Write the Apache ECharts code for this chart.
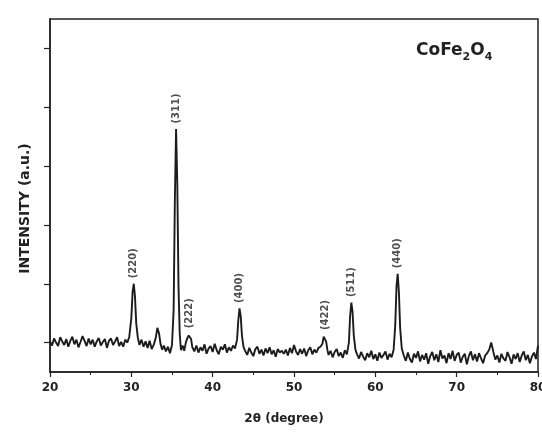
<!DOCTYPE html>
<html>
<head>
<meta charset="utf-8">
<script src="https://cdn.jsdelivr.net/npm/echarts@6/dist/echarts.min.js"></script>
<style>
  html, body { margin: 0; padding: 0; background: #fff; }
  #chart { width: 542px; height: 435px; }
</style>
</head>
<body>
<div id="chart"></div>
<script>
// XRD pattern of CoFe2O4: diffraction angle 2θ (degrees) and intensity (a.u., baseline = 0)
const twoTheta = [
  20.00, 20.25, 20.50, 20.75, 21.00, 21.25, 21.50, 21.75, 22.00, 22.25,
  22.50, 22.75, 23.00, 23.25, 23.50, 23.75, 24.00, 24.25, 24.50, 24.75,
  25.00, 25.25, 25.50, 25.75, 26.00, 26.25, 26.50, 26.75, 27.00, 27.25,
  27.50, 27.75, 28.00, 28.25, 28.50, 28.75, 29.00, 29.25, 29.50, 29.75,
  30.00, 30.15, 30.30, 30.45, 30.60, 30.80,
  31.00, 31.25, 31.50, 31.75, 32.00, 32.25, 32.50, 32.75, 33.00, 33.20,
  33.40, 33.60, 33.80, 34.00, 34.25, 34.50, 34.75, 35.00,
  35.20, 35.35, 35.50, 35.65, 35.80, 35.95,
  36.10, 36.30, 36.50, 36.70, 36.90, 37.05, 37.20, 37.35, 37.50, 37.75,
  38.00, 38.25, 38.50, 38.75, 39.00, 39.25, 39.50, 39.75, 40.00, 40.25,
  40.50, 40.75, 41.00, 41.25, 41.50, 41.75, 42.00, 42.25, 42.50, 42.75,
  43.00, 43.15, 43.30, 43.45, 43.60, 43.80,
  44.00, 44.25, 44.50, 44.75, 45.00, 45.25, 45.50, 45.75, 46.00, 46.25,
  46.50, 46.75, 47.00, 47.25, 47.50, 47.75, 48.00, 48.25, 48.50, 48.75,
  49.00, 49.25, 49.50, 49.75, 50.00, 50.25, 50.50, 50.75, 51.00, 51.25,
  51.50, 51.75, 52.00, 52.25, 52.50, 52.75, 53.00, 53.25,
  53.50, 53.65, 53.80, 53.95, 54.10,
  54.25, 54.50, 54.75, 55.00, 55.25, 55.50, 55.75, 56.00, 56.25, 56.50,
  56.75, 56.90, 57.05, 57.20, 57.35, 57.55,
  57.75, 58.00, 58.25, 58.50, 58.75, 59.00, 59.25, 59.50, 59.75, 60.00,
  60.25, 60.50, 60.75, 61.00, 61.25, 61.50, 61.75, 62.00, 62.25,
  62.45, 62.60, 62.75, 62.90, 63.05, 63.25,
  63.50, 63.75, 64.00, 64.25, 64.50, 64.75, 65.00, 65.25, 65.50, 65.75,
  66.00, 66.25, 66.50, 66.75, 67.00, 67.25, 67.50, 67.75, 68.00, 68.25,
  68.50, 68.75, 69.00, 69.25, 69.50, 69.75, 70.00, 70.25, 70.50, 70.75,
  71.00, 71.25, 71.50, 71.75, 72.00, 72.25, 72.50, 72.75, 73.00, 73.25,
  73.50, 73.75, 74.00, 74.25, 74.50, 74.75, 75.00, 75.25, 75.50, 75.75,
  76.00, 76.25, 76.50, 76.75, 77.00, 77.25, 77.50, 77.75, 78.00, 78.25,
  78.50, 78.75, 79.00, 79.25, 79.50, 79.75, 80.00
];

const intensity = [
   0.02, -0.05,  0.07,  0.00, -0.06,  0.09,  0.02, -0.04,  0.06, -0.07,
   0.03,  0.10, -0.03,  0.05, -0.08,  0.01,  0.11,  0.03, -0.06,  0.07,
  -0.03,  0.05, -0.07,  0.02,  0.08, -0.05,  0.01,  0.06, -0.09,  0.03,
   0.07, -0.04,  0.02,  0.09, -0.06,  0.01, -0.07,  0.05,  0.00,  0.10,
   0.42,  0.85,  1.00,  0.78,  0.33,  0.08,
  -0.04,  0.05, -0.07,  0.02, -0.09,  0.03, -0.11, -0.04,  0.08,  0.25,
   0.16, -0.03, -0.12, -0.05, -0.15, -0.07, -0.18, -0.04,
   0.55,  2.40,  3.63,  2.70,  0.95,  0.15,
  -0.13, -0.05, -0.14,  0.00,  0.08,  0.12,  0.15,  0.06, -0.08, -0.15,
  -0.05, -0.17, -0.08, -0.14, -0.03, -0.19, -0.10, -0.06, -0.16, -0.02,
  -0.13, -0.20, -0.07, -0.12, -0.03, -0.17, -0.08, -0.14, -0.05, -0.10,
   0.05,  0.38,  0.58,  0.45,  0.12, -0.08,
  -0.14, -0.21, -0.09, -0.17, -0.23, -0.11, -0.07, -0.19, -0.12, -0.22,
  -0.10, -0.18, -0.08, -0.20, -0.13, -0.24, -0.11, -0.17, -0.14, -0.19,
  -0.12, -0.22, -0.09, -0.18, -0.04, -0.15, -0.21, -0.11, -0.19, -0.10,
  -0.23, -0.13, -0.08, -0.20, -0.12, -0.17, -0.09, -0.07,
  -0.02,  0.10,  0.12,  0.02, -0.12,
  -0.21, -0.14, -0.25, -0.16, -0.11, -0.23, -0.17, -0.26, -0.13, -0.20,
   0.00,  0.45,  0.68,  0.52,  0.12, -0.12,
  -0.20, -0.27, -0.16, -0.24, -0.30, -0.18, -0.25, -0.14, -0.28, -0.20,
  -0.31, -0.17, -0.26, -0.21, -0.15, -0.29, -0.19, -0.25, -0.12,
   0.30,  0.95,  1.17,  0.85,  0.25, -0.10,
  -0.22, -0.31, -0.17, -0.28, -0.34, -0.19, -0.26, -0.15, -0.32, -0.21,
  -0.29, -0.18, -0.36, -0.23, -0.16, -0.30, -0.20, -0.33, -0.13, -0.27,
  -0.22, -0.35, -0.18, -0.28, -0.14, -0.31, -0.21, -0.17, -0.34, -0.24,
  -0.19, -0.37, -0.23, -0.15, -0.30, -0.20, -0.32, -0.18, -0.27, -0.35,
  -0.22, -0.18, -0.12,  0.00, -0.15, -0.29, -0.22, -0.34, -0.19, -0.27,
  -0.31, -0.16, -0.25, -0.36, -0.20, -0.28, -0.18, -0.33, -0.22, -0.15,
  -0.30, -0.21, -0.35, -0.24, -0.17, -0.28, -0.05
];

// Indexed spinel reflections
const peakLabels = ['(220)', '(311)', '(222)', '(400)', '(422)', '(511)', '(440)'];
const peakAngles = [30.30, 35.50, 37.20, 43.30, 53.80, 57.05, 62.75];
const peakHeights = [1.00, 3.63, 0.15, 0.58, 0.12, 0.68, 1.17];

const xTicks = [20, 30, 40, 50, 60, 70, 80];
const yTicks = [0, 1, 2, 3, 4, 5];

const ink = '#222';
const font = 'DejaVu Sans';

const pattern = twoTheta.map((t, i) => [t, intensity[i]]);
const peaks = peakAngles.map((t, i) => ({ name: peakLabels[i], value: [t, peakHeights[i]] }));

const chart = echarts.init(document.getElementById('chart'), null, { renderer: 'canvas' });
chart.setOption({
  animation: false,
  backgroundColor: '#fff',
  title: {
    text: '{m|CoFe}{s|2}{m|O}{s|4}',
    left: 411,
    top: 32,
    textStyle: {
      rich: {
        m: { fontFamily: font, fontWeight: 'bold', fontSize: 17, color: ink, lineHeight: 22, verticalAlign: 'bottom' },
        s: { fontFamily: font, fontWeight: 'bold', fontSize: 11, color: ink, lineHeight: 22, verticalAlign: 'bottom', padding: [0, 0, -4, 0] }
      }
    }
  },
  grid: {
    left: 50, right: 4, top: 19, bottom: 63,
    outerBoundsMode: 'none',
    containLabel: false,
    show: true, borderColor: ink, borderWidth: 1.5, backgroundColor: 'transparent'
  },
  xAxis: {
    type: 'value',
    min: xTicks[0],
    max: xTicks[xTicks.length - 1],
    interval: 10,
    axisLine: { onZero: false, lineStyle: { color: ink, width: 1.5 } },
    axisTick: { length: 5, lineStyle: { color: ink, width: 1.2 } },
    minorTick: { show: true, splitNumber: 2, length: 3, lineStyle: { color: ink, width: 1 } },
    splitLine: { show: false },
    axisLabel: { color: ink, fontFamily: font, fontWeight: 'bold', fontSize: 12, margin: 10 },
    name: '2θ (degree)',
    nameLocation: 'middle',
    nameGap: 41,
    nameTextStyle: { color: ink, fontFamily: font, fontWeight: 'bold', fontSize: 12, padding: [0, 20, 0, 0] }
  },
  yAxis: {
    type: 'value',
    min: -0.5,
    max: 5.5,
    axisLine: { show: true, onZero: false, lineStyle: { color: ink, width: 1.5 } },
    axisTick: { show: true, length: 6, customValues: yTicks, lineStyle: { color: ink, width: 1.2 } },
    axisLabel: { show: false },
    splitLine: { show: false },
    name: 'INTENSITY (a.u.)',
    nameLocation: 'middle',
    nameGap: 18,
    nameRotate: 90,
    nameTextStyle: { color: ink, fontFamily: font, fontWeight: 'bold', fontSize: 14, padding: [0, 26, 0, 0] }
  },
  series: [
    {
      type: 'line',
      data: pattern,
      showSymbol: false,
      symbol: 'none',
      lineStyle: { color: '#1c1c1c', width: 1.9 },
      z: 3
    },
    {
      type: 'scatter',
      data: peaks,
      symbolSize: 1,
      itemStyle: { color: 'rgba(0,0,0,0)' },
      label: {
        show: true,
        formatter: '{b}',
        position: 'top',
        distance: 5,
        rotate: 90,
        align: 'left',
        verticalAlign: 'middle',
        color: ink,
        fontFamily: font,
        fontWeight: 'bold',
        fontSize: 10
      },
      z: 4
    }
  ]
});
</script>
</body>
</html>
